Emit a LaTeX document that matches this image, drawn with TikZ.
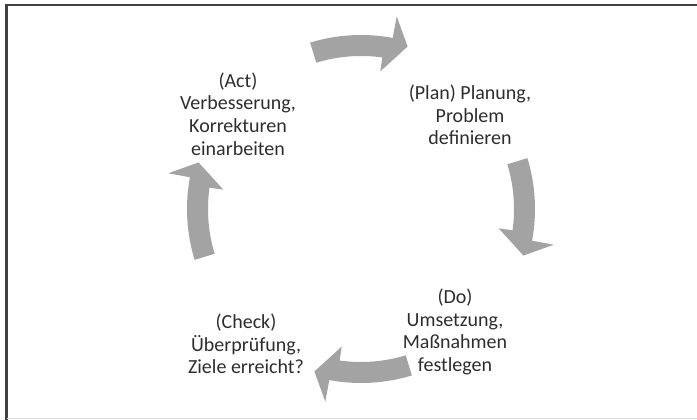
\documentclass[tikz,border=0pt]{standalone}
\usepackage{fontspec}
\setmainfont{Carlito}
\usetikzlibrary{positioning}
\definecolor{arrowgray}{RGB}{163,163,163}
\definecolor{textgray}{RGB}{45,45,45}

\begin{document}
\begin{tikzpicture}[
  x=1pt,y=1pt,
  line join=miter,
  phase/.style={align=center,text=textgray,inner sep=0pt,
    font=\fontsize{20}{22.7}\selectfont},
  cyclearrow/.style={fill=arrowgray}
]
  \path[use as bounding box] (0,0) rectangle (697,420);
  \draw[black!75,line width=2.2pt] (6.5,0) -- (6.5,415) -- (697,415);
  \draw[black!12,line width=1pt] (6.5,1.5) -- (697,1.5);

  \node[phase] (act) at (238,306) {(Act)\\Verbesserung,\\Korrekturen\\einarbeiten};
  \node[phase] (plan) at (470,305) {(Plan) Planung,\\Problem\\definieren};
  \node[phase] (do) at (455,88) {(Do)\\Umsetzung,\\Maßnahmen\\festlegen};
  \node[phase] (check) at (246,76) {(Check)\\Überprüfung,\\Ziele erreicht?};

  \coordinate (hub) at (361,211);
  \foreach \a in {90,0,-90,180} {
    \fill[cyclearrow,shift={(hub)}] ({\a+17}:174pt)
      arc[start angle=\a+17,end angle=\a-10.5,radius=174pt]
      -- ({\a-10.5}:196pt) -- ({\a-16}:169pt) -- ({\a-8}:139pt)
      -- ({\a-8}:153pt)
      arc[start angle=\a-8,end angle=\a+17,radius=153pt] -- cycle;
  }
\end{tikzpicture}
\end{document}
